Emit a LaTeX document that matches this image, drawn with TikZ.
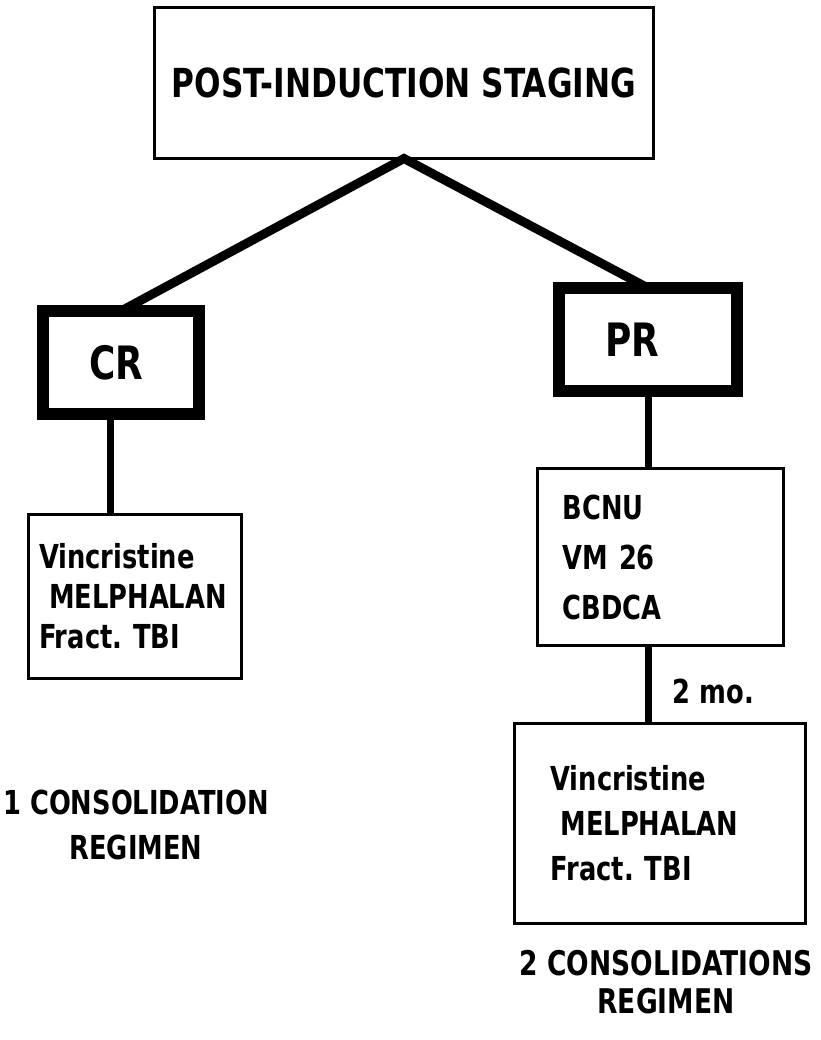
\documentclass[tikz,border=0pt]{standalone}
\usepackage{fontspec}
\newfontfamily\chartfont{DejaVu Sans}[FakeStretch=0.78]
\newcommand{\chartsize}[2]{\fontsize{#1}{#2}\selectfont}
\frenchspacing

\tikzset{
  titlebox/.style={draw, line width=3pt, outer sep=0pt},
  stagebox/.style={draw, line width=12pt, outer sep=0pt, inner xsep=46pt, align=left,
    font=\chartfont\bfseries\chartsize{46}{50}},
  drugbox/.style={draw, line width=3pt, outer sep=0pt, align=left},
  note/.style={align=center, font=\chartfont\bfseries\chartsize{33}{#1}},
  link/.style={line width=9pt, line join=miter},
  stem/.style={line width=7pt}
}

\begin{document}
\begin{tikzpicture}[x=1pt,y=-1pt]
	\useasboundingbox (0,0) rectangle (820,1040);
	% staging and the two responses
	\node[titlebox, minimum width=499pt, minimum height=151pt,
		font=\chartfont\bfseries\chartsize{40}{45}] (top) at (404,83) {POST-INDUCTION STAGING};
	\node[stagebox, text width=64pt, minimum height=103pt] (cr) at (121,362.5) {CR};
	\node[stagebox, text width=86pt, minimum height=103pt] (pr) at (648,339.5) {PR};
	\draw[link] (cr.north) -- (top.south) -- (pr.north);
	% regimens
	\node[drugbox, minimum height=164pt, text width=192pt, inner xsep=10.5pt,
		font=\chartfont\bfseries\chartsize{33}{40}] (crdrugs) at (135,596.5)
		{Vincristine\\\hspace*{10pt}MELPHALAN\\Fract. TBI};
	\node[drugbox, minimum height=177pt, text width=196pt, inner xsep=25pt,
		font=\chartfont\bfseries\chartsize{33}{50}] (prdrugs) at (660.5,557)
		{BCNU\\VM 26\\CBDCA};
	\node[drugbox, minimum height=200pt, text width=219pt, inner xsep=36pt,
		font=\chartfont\bfseries\chartsize{33}{45}] (prcons) at (660,823.5)
		{Vincristine\\\hspace*{10pt}MELPHALAN\\Fract. TBI};
	\draw[stem] ([xshift=-11pt]cr.south) -- ([xshift=-11pt]cr.south |- crdrugs.north);
	\draw[stem] (pr.south) -- (pr.south |- prdrugs.north);
	\draw[stem] (pr.south |- prdrugs.south) -- (pr.south |- prcons.north)
		node[midway, right=18pt, yshift=-7pt, font=\chartfont\bfseries\chartsize{33}{40}] (gap) {2 mo.};
	% totals
	\node[note=45] (crnote) at (136,825) {1 CONSOLIDATION\\REGIMEN};
	\node[note=38, font=\chartfont\bfseries\chartsize{34}{38}] (prnote) at (666,982) {2 CONSOLIDATIONS\\REGIMEN};
\end{tikzpicture}
\end{document}
